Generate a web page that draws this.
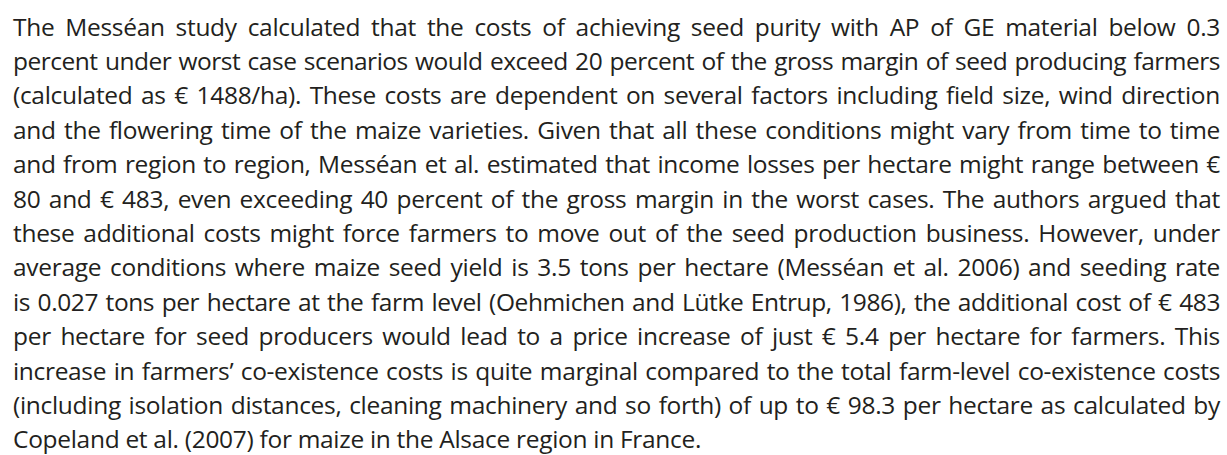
<!DOCTYPE html>
<html lang="en">
<head>
    <meta charset="UTF-8">
    <title>Messéan study text</title>
    <script src="https://cdn.jsdelivr.net/npm/chart.js@4/dist/chart.umd.min.js"></script>
    <style>
        html, body {
            margin: 0;
            padding: 0;
            background: #ffffff;
        }
        body {
            width: 1227px;
            height: 455px;
            overflow: hidden;
        }
        .text {
            position: absolute;
            left: 13px;
            top: 9.5px;
            width: 1207px;
            font-family: 'Open Sans', sans-serif;
            font-size: 24.5px;
            line-height: 34.4px;
            letter-spacing: -0.3px;
            color: #231f20;
        }
        .line {
            white-space: nowrap;
        }
    </style>
</head>
<body>
    <div class="text" id="text"></div>

    <script>
        // one entry per printed line, as in the original page
        const lines = [
            'The Messéan study calculated that the costs of achieving seed purity with AP of GE material below 0.3',
            'percent under worst case scenarios would exceed 20 percent of the gross margin of seed producing farmers',
            '(calculated as € 1488/ha). These costs are dependent on several factors including field size, wind direction',
            'and the flowering time of the maize varieties. Given that all these conditions might vary from time to time',
            'and from region to region, Messéan et al. estimated that income losses per hectare might range between €',
            '80 and € 483, even exceeding 40 percent of the gross margin in the worst cases. The authors argued that',
            'these additional costs might force farmers to move out of the seed production business. However, under',
            'average conditions where maize seed yield is 3.5 tons per hectare (Messéan et al. 2006) and seeding rate',
            'is 0.027 tons per hectare at the farm level (Oehmichen and Lütke Entrup, 1986), the additional cost of € 483',
            'per hectare for seed producers would lead to a price increase of just € 5.4 per hectare for farmers. This',
            'increase in farmers’ co-existence costs is quite marginal compared to the total farm-level co-existence costs',
            '(including isolation distances, cleaning machinery and so forth) of up to € 98.3 per hectare as calculated by',
            'Copeland et al. (2007) for maize in the Alsace region in France.'
        ];

        const box = document.getElementById('text');
        const target = 1207;

        lines.forEach((txt, i) => {
            const div = document.createElement('div');
            div.className = 'line';
            const span = document.createElement('span');
            span.textContent = txt;
            div.appendChild(span);
            box.appendChild(div);
            if (i === lines.length - 1) return;

            const gaps = txt.split(' ').length - 1;
            let natural = span.getBoundingClientRect().width;
            // squeeze letters a little more when the line is still too wide
            const room = target - gaps * 1.5;
            if (natural > room) {
                span.style.letterSpacing = (-0.3 + (room - natural) / txt.length) + 'px';
                natural = span.getBoundingClientRect().width;
            }
            span.style.wordSpacing = ((target - natural) / gaps) + 'px';
        });
    </script>
</body>
</html>
